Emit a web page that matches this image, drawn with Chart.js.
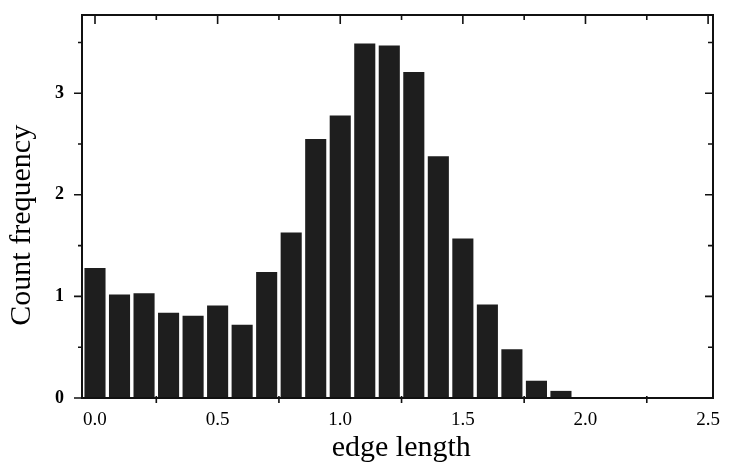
<!DOCTYPE html>
<html>
<head>
<meta charset="utf-8">
<script src="https://cdn.jsdelivr.net/npm/chart.js@4/dist/chart.umd.min.js"></script>
<style>
  html, body { margin: 0; padding: 0; background: #fff; }
  #wrap { width: 729px; height: 467px; position: relative; }
</style>
</head>
<body>
<div id="wrap"><canvas id="c" width="729" height="467"></canvas></div>
<script>
// Bin centres (edge length) and their count frequencies
const binCentres = [0.0, 0.1, 0.2, 0.3, 0.4, 0.5, 0.6, 0.7, 0.8, 0.9,
                    1.0, 1.1, 1.2, 1.3, 1.4, 1.5, 1.6, 1.7, 1.8, 1.9];
const frequencies = [1.28, 1.02, 1.03, 0.84, 0.81, 0.91, 0.72, 1.24, 1.63, 2.55,
                     2.78, 3.49, 3.47, 3.21, 2.38, 1.57, 0.92, 0.48, 0.17, 0.07];
const xTickLabels = ['0.0', '0.5', '1.0', '1.5', '2.0', '2.5'];
const yTickLabels = ['0', '1', '2', '3'];
const xTitle = 'edge length';
const yTitle = 'Count frequency';

const points = binCentres.map((x, i) => ({ x: x, y: frequencies[i] }));

// draws axis box and tick marks using the library's scales
const frameTicks = {
  id: 'frameTicks',
  afterDatasetsDraw(chart) {
    const ctx = chart.ctx;
    const a = chart.chartArea;
    const xs = chart.scales.x, ys = chart.scales.y;
    ctx.save();
    ctx.strokeStyle = '#111';
    ctx.lineWidth = 2;
    ctx.strokeRect(a.left, a.top, a.right - a.left, a.bottom - a.top);
    ctx.lineWidth = 1.6;
    ctx.beginPath();
    xs.ticks.forEach(t => {
      const px = xs.getPixelForValue(t.value);
      const major = Math.abs(t.value * 2 - Math.round(t.value * 2)) < 1e-6;
      ctx.moveTo(px, a.top);
      ctx.lineTo(px, a.top + (major ? 9 : 5));
      if (!major) {
        ctx.moveTo(px, a.bottom - 2);
        ctx.lineTo(px, a.bottom + 5);
      }
    });
    ys.ticks.forEach(t => {
      const py = ys.getPixelForValue(t.value);
      const major = Math.abs(t.value - Math.round(t.value)) < 1e-6;
      ctx.moveTo(a.left, py);
      ctx.lineTo(a.left - (major ? 8 : 4), py);
      ctx.moveTo(a.right, py);
      ctx.lineTo(a.right - (major ? 8 : 5), py);
    });
    ctx.stroke();
    ctx.restore();
  }
};

new Chart(document.getElementById('c'), {
  type: 'bar',
  data: {
    datasets: [{
      data: points,
      backgroundColor: '#1e1e1e',
      borderWidth: 0,
      barPercentage: 0.86,
      categoryPercentage: 1.0
    }]
  },
  options: {
    responsive: false,
    animation: false,
    devicePixelRatio: 1,
    layout: { padding: { top: 15, right: 16, left: 0, bottom: 0 } },
    plugins: { legend: { display: false }, tooltip: { enabled: false } },
    scales: {
      x: {
        type: 'linear',
        offset: false,
        min: -0.053,
        max: 2.52,
        grid: { display: false, offset: false },
        border: { display: false },
        ticks: {
          stepSize: 0.25,
          includeBounds: false,
          autoSkip: false,
          maxRotation: 0,
          padding: 3,
          color: '#000',
          font: { family: 'Liberation Serif', size: 19 },
          callback: (v) => {
            const lbl = Number(v).toFixed(1);
            return xTickLabels.includes(lbl) && Math.abs(v * 2 - Math.round(v * 2)) < 1e-6 ? lbl : '';
          }
        },
        title: {
          display: true,
          text: ' ' + xTitle,
          color: '#000',
          font: { family: 'Liberation Serif', size: 30 },
          padding: { top: 0, bottom: 1 }
        },
        afterFit: (s) => { s.height = 69; s.paddingLeft = 0; s.paddingRight = 0; }
      },
      y: {
        min: 0,
        max: 3.77,
        grid: { display: false },
        border: { display: false },
        ticks: {
          stepSize: 0.5,
          includeBounds: false,
          autoSkip: false,
          padding: 10,
          color: '#000',
          font: { family: 'Liberation Serif', size: 18, weight: 'bold' },
          callback: (v) => {
            const lbl = String(Math.round(v));
            return Math.abs(v - Math.round(v)) < 1e-6 && yTickLabels.includes(lbl) ? lbl : '';
          }
        },
        title: {
          display: true,
          text: yTitle + '     ',
          color: '#000',
          font: { family: 'Liberation Serif', size: 30 },
          padding: { top: 4, bottom: 0 }
        },
        afterFit: (s) => { s.width = 82; s.paddingTop = 0; s.paddingBottom = 0; }
      }
    }
  },
  plugins: [frameTicks]
});
</script>
</body>
</html>
